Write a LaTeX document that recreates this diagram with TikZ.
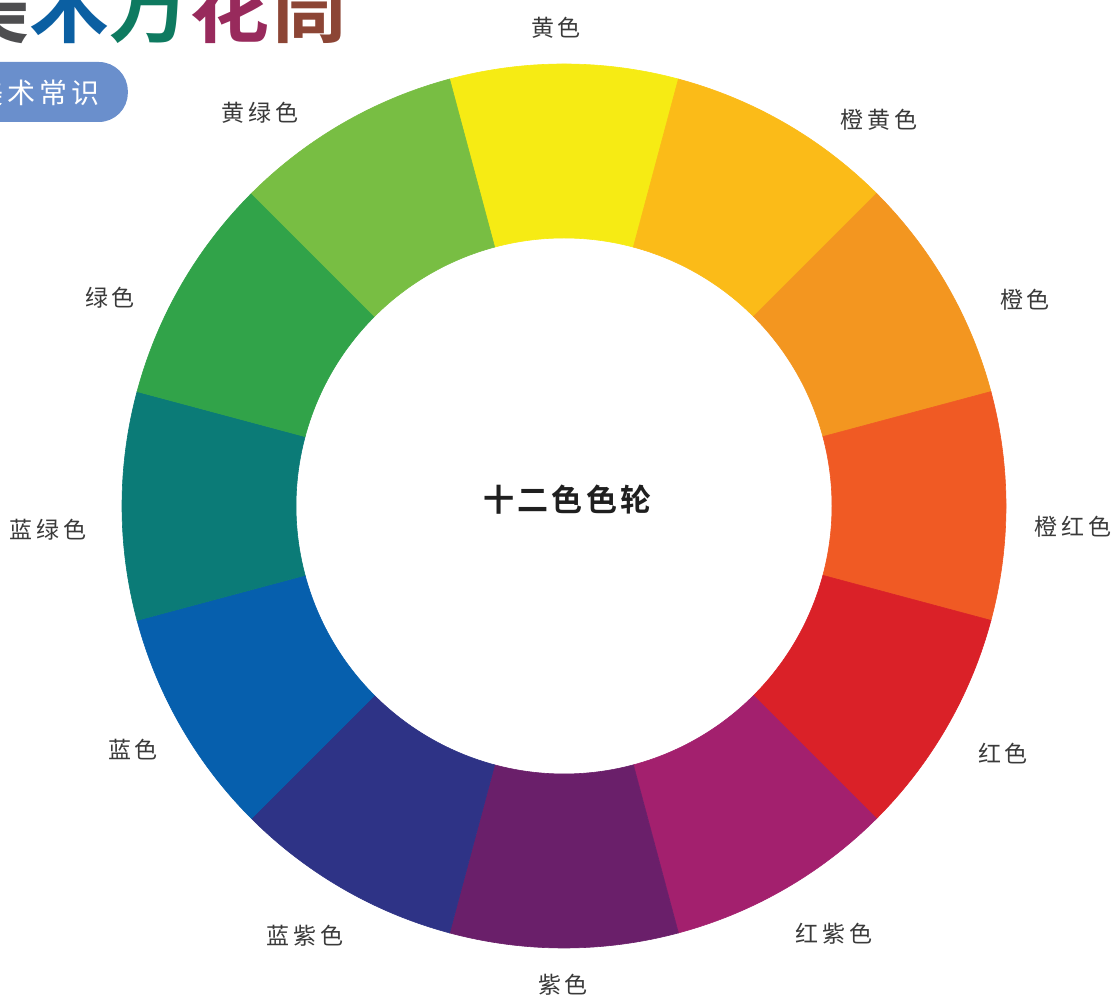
\documentclass[tikz,border=0pt]{standalone}
\usepackage{fontspec}
\newfontfamily\cjk[BoldFont={Noto Sans CJK SC Bold}]{Noto Sans CJK SC}
\definecolor{cYellow}{HTML}{F6EB14}
\definecolor{cYellowOrange}{HTML}{FBBB18}
\definecolor{cOrange}{HTML}{F39620}
\definecolor{cRedOrange}{HTML}{F05A24}
\definecolor{cRed}{HTML}{DA2128}
\definecolor{cRedPurple}{HTML}{A3206E}
\definecolor{cPurple}{HTML}{6A1F6A}
\definecolor{cBluePurple}{HTML}{2E3386}
\definecolor{cBlue}{HTML}{065FAD}
\definecolor{cBlueGreen}{HTML}{0B7B77}
\definecolor{cGreen}{HTML}{31A349}
\definecolor{cYellowGreen}{HTML}{78BE43}
\definecolor{badgec}{HTML}{6A8FCC}
\definecolor{tGray}{HTML}{4E4E50}
\definecolor{tBlue}{HTML}{0B5FA2}
\definecolor{tGreen}{HTML}{0E7A60}
\definecolor{tMaroon}{HTML}{982A5C}
\definecolor{tBrown}{HTML}{8C4535}
\definecolor{lblgray}{HTML}{3A3A3A}
\tikzset{
  lbl/.style={inner sep=0pt, text=lblgray, font=\cjk\fontsize{23pt}{23pt}\selectfont},
  seg/.style={fill=#1, draw=#1, line width=0.6pt}
}
\newcommand\ringseg[3]{%
  \path[seg=#3] (#1:442pt) arc[start angle=#1, end angle=#2, radius=442pt]
     -- (#2:268pt) arc[start angle=#2, end angle=#1, radius=268pt] -- cycle;}
\begin{document}
\begin{tikzpicture}[x=1pt,y=1pt]
\useasboundingbox (0,0) rectangle (1116,998);
% wheel
\begin{scope}[shift={(564,492)}]
  \ringseg{75}{105}{cYellow}
  \ringseg{45}{75}{cYellowOrange}
  \ringseg{15}{45}{cOrange}
  \ringseg{-15}{15}{cRedOrange}
  \ringseg{-45}{-15}{cRed}
  \ringseg{-75}{-45}{cRedPurple}
  \ringseg{-105}{-75}{cPurple}
  \ringseg{-135}{-105}{cBluePurple}
  \ringseg{-165}{-135}{cBlue}
  \ringseg{165}{195}{cBlueGreen}
  \ringseg{135}{165}{cGreen}
  \ringseg{105}{135}{cYellowGreen}
\end{scope}
% center title
\node[inner sep=0pt, text={black!88}, font=\cjk\bfseries\fontsize{31pt}{31pt}\selectfont] (center) at (567.5,498)
  {十\hspace{3.5pt}二\hspace{3.5pt}色\hspace{3.5pt}色\hspace{3.5pt}轮};
% labels
\node[lbl] (l1)  at (556,970) {黄\hspace{4pt}色};
\node[lbl] (l2)  at (879,878) {橙\hspace{4pt}黄\hspace{4pt}色};
\node[lbl] (l3)  at (1025,698) {橙\hspace{4pt}色};
\node[lbl] (l4)  at (1073,471) {橙\hspace{4pt}红\hspace{4pt}色};
\node[lbl] (l5)  at (1003,244) {红\hspace{4pt}色};
\node[lbl] (l6)  at (834,64) {红\hspace{4pt}紫\hspace{4pt}色};
\node[lbl] (l7)  at (563,13) {紫\hspace{4pt}色};
\node[lbl] (l8)  at (305,62) {蓝\hspace{4pt}紫\hspace{4pt}色};
\node[lbl] (l9)  at (133,248) {蓝\hspace{4pt}色};
\node[lbl] (l10) at (48,468) {蓝\hspace{4pt}绿\hspace{4pt}色};
\node[lbl] (l11) at (110,700) {绿\hspace{4pt}色};
\node[lbl] (l12) at (260,885) {黄\hspace{4pt}绿\hspace{4pt}色};
% header title (cropped)
\node[anchor=base west, inner sep=0pt, font=\cjk\bfseries\fontsize{80pt}{80pt}\selectfont] (title) at (-51,961)
  {\textcolor{tGray}{美}\textcolor{tBlue}{术}\textcolor{tGreen}{万}\textcolor{tMaroon}{花}\textcolor{tBrown}{筒}};
% badge
\node[fill=badgec, rounded corners=29pt, minimum width=190pt, minimum height=60pt, inner sep=0pt, anchor=east] (badge) at (128,906) {};
\node[anchor=base west, inner sep=0pt, text=white, font=\cjk\fontsize{28pt}{28pt}\selectfont] (badgetxt) at (-25,894)
  {美\hspace{4pt}术\hspace{4pt}常\hspace{4pt}识};
\end{tikzpicture}
\end{document}
